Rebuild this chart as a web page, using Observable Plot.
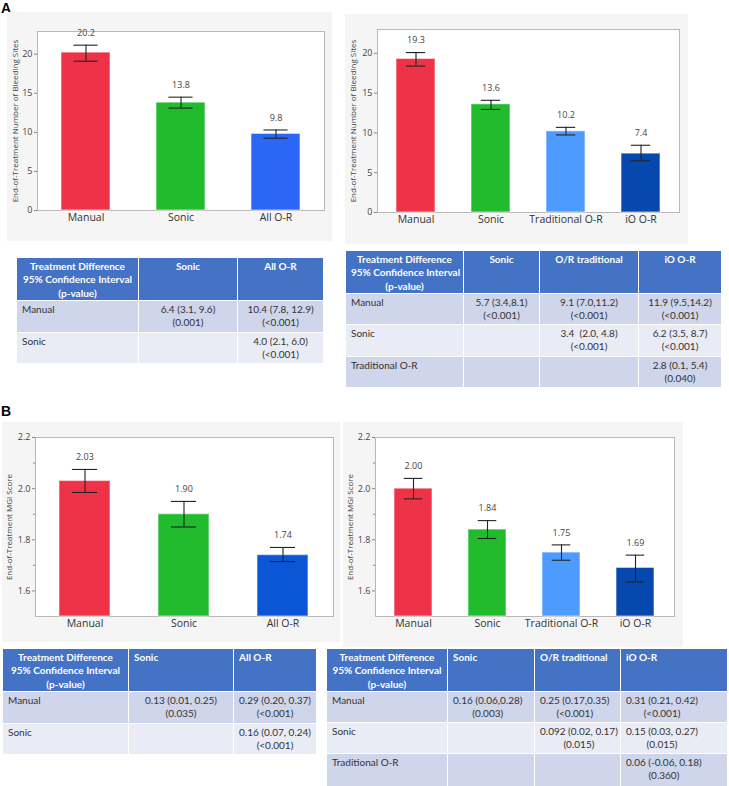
<!DOCTYPE html>
<html><head><meta charset="utf-8">
<script src="https://cdn.jsdelivr.net/npm/d3@7"></script>
<script src="https://cdn.jsdelivr.net/npm/@observablehq/plot@0.6"></script>
<style>
body{margin:0;background:#fff;}
#root{position:relative;width:729px;height:786px;overflow:hidden;}
.panel{position:absolute;line-height:0;}
.lbl{position:absolute;font-family:"Liberation Sans",Arial,sans-serif;font-weight:bold;font-size:14px;color:#000;}
table.t{position:absolute;border-collapse:collapse;table-layout:fixed;font-family:Lato,sans-serif;font-size:10px;color:#333;}
table.t td{border:1.5px solid #fff;vertical-align:top;padding:2px 5px 0 5px;line-height:13.3px;overflow:hidden;white-space:nowrap;box-sizing:border-box;}
table.t td.h{background:#4472C4;color:#fff;font-weight:bold;}
.sp{border-bottom:1px dotted #e33;padding-bottom:0px;}
.blk{display:inline-block;text-align:center;}
</style>
</head><body><div id="root"></div>
<script>
// ---------- data ----------
const titleA = "End-of-Treatment Number of Bleeding Sites";
const titleB = "End-of-Treatment MGI Score";

const catsA1 = ["Manual", "Sonic", "All O-R"];
const meansA1 = [20.2, 13.8, 9.8];
const lowsA1 = [19.1, 13.1, 9.25];
const highsA1 = [21.15, 14.5, 10.3];
const colorsA1 = ["#EE3349", "#22BB2E", "#2B66F6"];

const catsA2 = ["Manual", "Sonic", "Traditional O-R", "iO O-R"];
const meansA2 = [19.3, 13.6, 10.2, 7.4];
const lowsA2 = [18.4, 12.95, 9.75, 6.5];
const highsA2 = [20.1, 14.1, 10.7, 8.45];
const colorsA2 = ["#EE3349", "#22BB2E", "#4D9BFF", "#0748AE"];

const catsB1 = ["Manual", "Sonic", "All O-R"];
const meansB1 = [2.03, 1.90, 1.74];
const lowsB1 = [1.985, 1.85, 1.715];
const highsB1 = [2.075, 1.95, 1.77];
const colorsB1 = ["#EE3349", "#22BB2E", "#0A56D6"];

const catsB2 = ["Manual", "Sonic", "Traditional O-R", "iO O-R"];
const meansB2 = [2.00, 1.84, 1.75, 1.69];
const lowsB2 = [1.96, 1.805, 1.72, 1.635];
const highsB2 = [2.04, 1.875, 1.78, 1.74];
const colorsB2 = ["#EE3349", "#22BB2E", "#4D9BFF", "#0748AE"];

const yDomainA1 = [0, 22.9];
const yDomainA2 = [0, 23];
const yTicksA = [0, 5, 10, 15, 20];
const yDomainB = [1.5, 2.2];
const yTicksB = [1.6, 1.8, 2.0, 2.2];
const yMinorB = [1.7, 1.9, 2.1];

const headStub = ["Treatment Difference", "95% Confidence Interval", "(p-value)"];

const tA1Cols = ["Sonic", "All O-R"];
const tA1Rows = ["Manual", "Sonic"];
const tA1Cells = [
  [["6.4 (3.1, 9.6)", "(0.001)"], ["10.4 (7.8, 12.9)", "(<0.001)"]],
  [null, ["4.0 (2.1, 6.0)", "(<0.001)"]]
];

const tA2Cols = ["Sonic", "O/R traditional", "iO O-R"];
const tA2Rows = ["Manual", "Sonic", "Traditional O-R"];
const tA2Cells = [
  [["5.7 (3.4,8.1)", "(<0.001)"], ["9.1 (7.0,11.2)", "(<0.001)"], ["11.9 (9.5,14.2)", "(<0.001)"]],
  [null, ["3.4\u00a0 (2.0, 4.8)", "(<0.001)"], ["6.2 (3.5, 8.7)", "(<0.001)"]],
  [null, null, ["2.8 (0.1, 5.4)", "(0.040)"]]
];

const tB1Cols = ["Sonic", "All O-R"];
const tB1Rows = ["Manual", "Sonic"];
const tB1Cells = [
  [["0.13 (0.01, 0.25)", "(0.035)"], ["0.29 (0.20, 0.37)", "(<0.001)"]],
  [null, ["0.16 (0.07, 0.24)", "(<0.001)"]]
];

const tB2Cols = ["Sonic", "O/R traditional", "iO O-R"];
const tB2Rows = ["Manual", "Sonic", "Traditional O-R"];
const tB2Cells = [
  [["0.16 (0.06,0.28)", "(0.003)"], ["0.25 (0.17,0.35)", "(<0.001)"], ["0.31 (0.21, 0.42)", "(<0.001)"]],
  [null, ["0.092 (0.02, 0.17)", "(0.015)"], ["0.15 (0.03, 0.27)", "(0.015)"]],
  [null, null, ["0.06 (-0.06, 0.18)", "(0.360)"]]
];

// ---------- helpers ----------
const root = document.getElementById("root");
const esc = s => s.replace(/&/g, "&amp;").replace(/</g, "&lt;").replace(/>/g, "&gt;");
const fmtHead = s => esc(s).replace(/^iO /, '<span class="sp">iO</span> ');
const fmtA = d3.format(".1f");
const fmtB = d3.format(".2f");

function chart(o) {
  const {cats, means, lows, highs, colors, yDomain, ticks, minor, fmt, tickFmt, title, width, height, ml, mr, mt, mb, titleX, left, top} = o;
  const data = cats.map((c, i) => ({cat: c, mean: means[i], lo: lows[i], hi: highs[i], base: yDomain[0]}));
  const pI = 0.48;
  const step = (width - ml - mr) / cats.length;
  const bw = step * (1 - pI);
  const marks = [
    Plot.frame({fill: "white", stroke: "#b8b8b8"}),
    Plot.barY(data, {x: "cat", y1: "base", y2: "mean", fill: "cat", stroke: "white", strokeOpacity: 0.5, strokeWidth: 1.2}),
    Plot.ruleX(data, {x: "cat", y1: "lo", y2: "hi", stroke: "#222", strokeWidth: 1.1}),
    Plot.tickY(data, {x: "cat", y: "hi", stroke: "#222", strokeWidth: 1.1, insetLeft: bw / 4, insetRight: bw / 4}),
    Plot.tickY(data, {x: "cat", y: "lo", stroke: "#222", strokeWidth: 1.1, insetLeft: bw / 4, insetRight: bw / 4}),
    Plot.text(data, {x: "cat", y: "hi", text: d => fmt(d.mean), dy: -12, fontSize: 9, fill: "#444"}),
    Plot.axisX({tickSize: 0, tickPadding: 3, fontSize: 10.5, label: null, fill: "#333"}),
    Plot.axisY({ticks, tickSize: 3, tickPadding: 2, fontSize: 9, label: null, tickFormat: tickFmt, fill: "#444", stroke: "#888"}),
    Plot.text([title], {frameAnchor: "left", text: d => d, rotate: -90, textAnchor: "middle", dx: titleX - ml, fontSize: 8, fill: "#444"})
  ];
  if (minor) marks.push(Plot.axisY({ticks: minor, tickSize: 2, tickFormat: () => "", label: null, stroke: "#888"}));
  const svg = Plot.plot({
    width, height, marginLeft: ml, marginRight: mr, marginTop: mt, marginBottom: mb,
    style: {background: "#f5f5f5", fontFamily: "'Open Sans', sans-serif", color: "#333", overflow: "visible"},
    x: {domain: cats, paddingInner: pI, paddingOuter: pI / 2},
    y: {domain: yDomain},
    color: {domain: cats, range: colors},
    marks
  });
  const div = document.createElement("div");
  div.className = "panel";
  div.style.left = left + "px";
  div.style.top = top + "px";
  div.appendChild(svg);
  root.appendChild(div);
}

function table(o) {
  const {left, top, colW, rowH, cols, rows, cells, headAlign, mode} = o;
  let h = `<colgroup>${colW.map(w => `<col style="width:${w}px">`).join("")}</colgroup>`;
  h += `<tr style="height:${rowH[0]}px"><td class="h" style="text-align:center">${headStub.map(esc).join("<br>")}</td>`;
  cols.forEach(c => { h += `<td class="h" style="text-align:${headAlign}">${fmtHead(c)}</td>`; });
  h += "</tr>";
  rows.forEach((r, i) => {
    const bg = i % 2 === 0 ? "#CFD5EA" : "#E9EBF5";
    h += `<tr style="height:${rowH[i + 1]}px;background:${bg}"><td>${esc(r)}</td>`;
    cells[i].forEach(c => {
      if (!c) { h += "<td></td>"; return; }
      const inner = c.map(esc).join("<br>");
      if (mode === "block") h += `<td style="text-align:left"><span class="blk">${inner}</span></td>`;
      else h += `<td style="text-align:center">${inner}</td>`;
    });
    h += "</tr>";
  });
  const t = document.createElement("table");
  t.className = "t";
  t.style.left = left + "px";
  t.style.top = top + "px";
  t.style.width = colW.reduce((a, b) => a + b, 0) + "px";
  t.innerHTML = h;
  root.appendChild(t);
}

// ---------- panel labels ----------
for (const [txt, x, y] of [["A", 1, 0], ["B", 1, 403]]) {
  const d = document.createElement("div");
  d.className = "lbl"; d.textContent = txt;
  d.style.left = x + "px"; d.style.top = y + "px";
  root.appendChild(d);
}

// ---------- charts ----------
chart({cats: catsA1, means: meansA1, lows: lowsA1, highs: highsA1, colors: colorsA1, yDomain: yDomainA1, ticks: yTicksA, fmt: fmtA, tickFmt: d3.format("d"), title: titleA,
  left: 7, top: 12, width: 325, height: 229, ml: 30, mr: 8, mt: 19, mb: 31, titleX: 8});
chart({cats: catsA2, means: meansA2, lows: lowsA2, highs: highsA2, colors: colorsA2, yDomain: yDomainA2, ticks: yTicksA, fmt: fmtA, tickFmt: d3.format("d"), title: titleA,
  left: 345, top: 14, width: 343, height: 230, ml: 32, mr: 9, mt: 15, mb: 32, titleX: 8});
chart({cats: catsB1, means: meansB1, lows: lowsB1, highs: highsB1, colors: colorsB1, yDomain: yDomainB, ticks: yTicksB, minor: yMinorB, fmt: fmtB, tickFmt: d3.format(".1f"), title: titleB,
  left: 2, top: 422, width: 338, height: 220, ml: 33, mr: 7, mt: 15, mb: 26, titleX: 7});
chart({cats: catsB2, means: meansB2, lows: lowsB2, highs: highsB2, colors: colorsB2, yDomain: yDomainB, ticks: yTicksB, minor: yMinorB, fmt: fmtB, tickFmt: d3.format(".1f"), title: titleB,
  left: 343, top: 422, width: 340, height: 225, ml: 32, mr: 9, mt: 15, mb: 31, titleX: 7});

// ---------- tables ----------
table({left: 16, top: 257, colW: [122, 99, 86], rowH: [43, 32, 31], cols: tA1Cols, rows: tA1Rows, cells: tA1Cells, headAlign: "center", mode: "center"});
table({left: 345, top: 250, colW: [118, 76, 99, 83], rowH: [43, 31, 32, 31], cols: tA2Cols, rows: tA2Rows, cells: tA2Cells, headAlign: "center", mode: "center"});
table({left: 2, top: 648, colW: [126, 105, 83], rowH: [42, 32, 31], cols: tB1Cols, rows: tB1Rows, cells: tB1Cells, headAlign: "left", mode: "center"});
table({left: 326, top: 648, colW: [121, 87, 86, 107], rowH: [43, 31, 31, 33], cols: tB2Cols, rows: tB2Rows, cells: tB2Cells, headAlign: "left", mode: "block"});
</script>
</body></html>
